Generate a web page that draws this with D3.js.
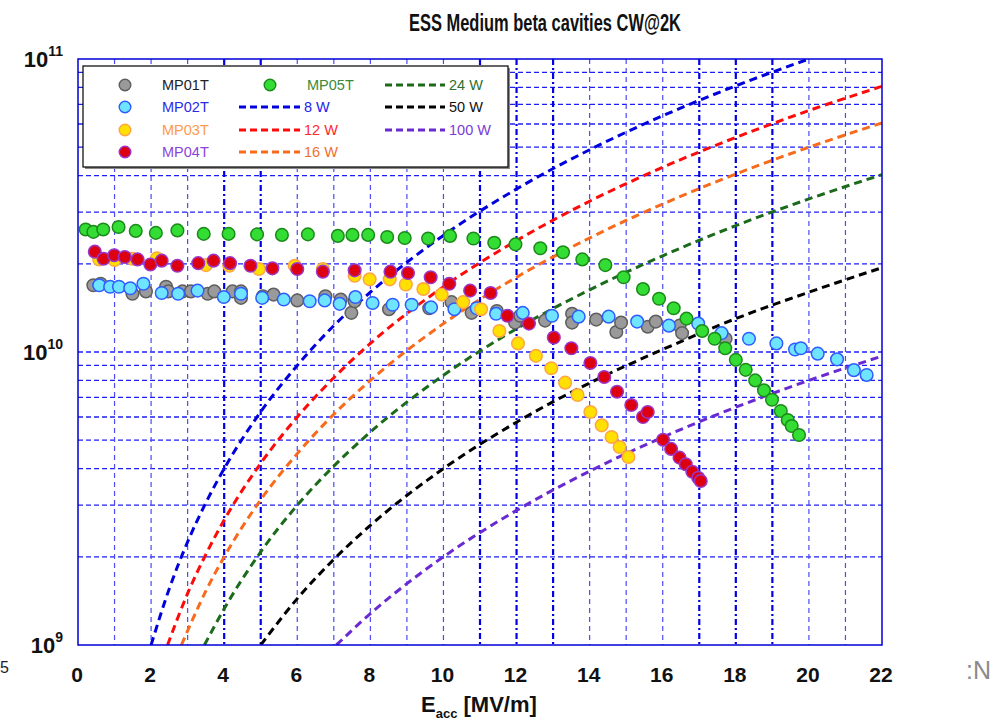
<!DOCTYPE html>
<html><head><meta charset="utf-8">
<script src="https://cdn.jsdelivr.net/npm/d3@7"></script>
<style>body{margin:0;background:#fff}svg{display:block}</style>
</head><body>
<svg id="c" width="995" height="722"></svg>
<script>
// ---------- data ----------
const mp01E = [0.42,0.62,1.49,1.86,2.41,2.47,2.86,3.09,3.55,3.73,4.23,4.46,4.46,5.06,5.35,6.0,6.77,7.19,7.48,7.57,8.51,9.61,10.22,10.77,11.46,11.96,12.10,12.78,13.52,13.52,14.18,14.73,14.86,15.59,15.81,16.46,16.53,17.72];
const mp01Q = [1.69,1.71,1.58,1.61,1.67,1.61,1.61,1.61,1.58,1.61,1.61,1.61,1.53,1.55,1.57,1.50,1.55,1.51,1.36,1.49,1.40,1.41,1.48,1.36,1.38,1.26,1.33,1.28,1.35,1.26,1.29,1.17,1.26,1.22,1.27,1.23,1.16,1.11];
const mp02E = [0.58,0.88,1.12,1.43,1.79,2.29,2.74,3.27,3.99,4.46,5.04,5.63,6.34,6.75,7.16,7.59,8.06,8.61,9.13,9.66,10.30,10.91,11.44,12.17,12.97,13.70,14.52,15.30,16.17,16.97,17.61,18.36,19.11,19.62,19.78,20.24,20.77,21.23,21.58];
const mp02Q = [1.69,1.67,1.67,1.65,1.71,1.59,1.58,1.62,1.54,1.58,1.53,1.51,1.49,1.50,1.46,1.54,1.47,1.45,1.45,1.42,1.40,1.41,1.35,1.36,1.33,1.32,1.32,1.27,1.23,1.25,1.16,1.11,1.07,1.02,1.03,0.987,0.944,0.867,0.835];
const mp03E = [0.58,1.0,1.49,2.16,3.50,4.14,4.95,5.93,6.70,7.57,7.98,8.53,8.97,9.45,9.95,10.54,11.03,11.53,12.04,12.53,12.95,13.33,13.67,14.02,14.33,14.60,14.82,15.06];
const mp03Q = [2.07,2.06,2.08,2.09,1.98,1.97,1.92,1.97,1.92,1.82,1.77,1.77,1.70,1.64,1.57,1.48,1.40,1.18,1.07,0.97,0.88,0.786,0.713,0.624,0.562,0.513,0.474,0.438];
const mp04E = [0.46,0.70,0.99,1.28,1.63,1.98,2.29,2.72,3.29,3.71,4.16,4.72,5.32,6.0,6.70,7.57,8.55,9.03,9.65,10.16,10.73,11.29,11.75,12.34,13.02,13.5,14.02,14.40,14.75,15.14,15.46,15.59,16.01,16.23,16.46,16.63,16.81,16.97,17.04];
const mp04Q = [2.20,2.08,2.14,2.11,2.07,1.99,2.05,1.97,2.01,2.05,2.01,1.97,1.93,1.92,1.88,1.90,1.88,1.86,1.80,1.71,1.62,1.59,1.33,1.25,1.12,1.03,0.917,0.822,0.732,0.659,0.60,0.624,0.502,0.467,0.436,0.414,0.390,0.372,0.363];
const mp05E = [0.21,0.42,0.69,1.11,1.58,2.13,2.72,3.44,4.12,4.90,5.58,6.29,7.11,7.51,7.94,8.46,8.94,9.58,10.18,10.82,11.39,11.97,12.65,13.27,13.80,14.43,14.93,15.46,15.90,16.3,16.65,17.08,17.42,17.71,18.0,18.27,18.53,18.77,18.99,19.23,19.42,19.53,19.73];
const mp05Q = [2.62,2.57,2.62,2.67,2.59,2.55,2.60,2.53,2.53,2.52,2.51,2.52,2.49,2.51,2.51,2.47,2.45,2.44,2.49,2.44,2.36,2.33,2.26,2.19,2.07,1.98,1.80,1.64,1.52,1.41,1.30,1.18,1.11,1.03,0.94,0.869,0.80,0.74,0.687,0.629,0.586,0.559,0.521];
const qUnit = 1e10;

// iso-power lines (E in MV/m, Q0)
const w8E  = [2,2.5,3,3.5,4,5,6,7,8,10,12,14,16,18,20];
const w8Q  = [1.0e9,1.56e9,2.25e9,3.06e9,4.0e9,6.25e9,9.0e9,1.23e10,1.6e10,2.5e10,3.6e10,4.9e10,6.4e10,8.1e10,1.0e11];
const w12E = [2.45,3,3.5,4,5,6,7,8,10,12,14,16,18,20,22];
const w12Q = [1.0e9,1.5e9,2.04e9,2.67e9,4.17e9,6.0e9,8.17e9,1.07e10,1.67e10,2.4e10,3.27e10,4.27e10,5.4e10,6.67e10,8.07e10];
const w16E = [2.83,3.5,4,5,6,7,8,10,12,14,16,18,20,22];
const w16Q = [1.0e9,1.53e9,2.0e9,3.13e9,4.5e9,6.13e9,8.0e9,1.25e10,1.8e10,2.45e10,3.2e10,4.05e10,5.0e10,6.05e10];
const w24E = [3.46,4,5,6,7,8,10,12,14,16,18,20,22];
const w24Q = [1.0e9,1.33e9,2.08e9,3.0e9,4.08e9,5.33e9,8.33e9,1.2e10,1.63e10,2.13e10,2.7e10,3.33e10,4.03e10];
const w50E = [5,6,7,8,10,12,14,16,18,20,22];
const w50Q = [1.0e9,1.44e9,1.96e9,2.56e9,4.0e9,5.76e9,7.84e9,1.02e10,1.3e10,1.6e10,1.94e10];
const w100E = [7.07,8,9,10,12,14,16,18,20,22];
const w100Q = [1.0e9,1.28e9,1.62e9,2.0e9,2.88e9,3.92e9,5.12e9,6.48e9,8.0e9,9.68e9];

const xTicks = [0,2,4,6,8,10,12,14,16,18,20,22];
const yTicks = [1e9,1e10,1e11];
const yTickExp = ["9","10","11"];
const title = "ESS Medium beta cavities CW@2K";

// ---------- styles ----------
const seriesStyle = [
  {name:"MP01T", E:mp01E, Q:mp01Q, fill:"#9a9a9a", stroke:"#5e5e5e", text:"#222222"},
  {name:"MP02T", E:mp02E, Q:mp02Q, fill:"#6fe4ff", stroke:"#2f5cff", text:"#2b2bea"},
  {name:"MP03T", E:mp03E, Q:mp03Q, fill:"#ffe000", stroke:"#ffa545", text:"#ff9a4a"},
  {name:"MP04T", E:mp04E, Q:mp04Q, fill:"#dd0010", stroke:"#9a36c8", text:"#8a44dd"},
  {name:"MP05T", E:mp05E, Q:mp05Q, fill:"#33dd33", stroke:"#1b8a1b", text:"#3a8a3a"}
];
const lineStyle = [
  {name:"8 W",   E:w8E,   Q:w8Q,   color:"#0000dd", text:"#2222ee"},
  {name:"12 W",  E:w12E,  Q:w12Q,  color:"#ff0a0a", text:"#ff2a2a"},
  {name:"16 W",  E:w16E,  Q:w16Q,  color:"#f86a1c", text:"#f07030"},
  {name:"24 W",  E:w24E,  Q:w24Q,  color:"#1c6a1c", text:"#2f702f"},
  {name:"50 W",  E:w50E,  Q:w50Q,  color:"#000000", text:"#111111"},
  {name:"100 W", E:w100E, Q:w100Q, color:"#6a2ad2", text:"#7a3ad8"}
];

const L = 78, R = 882, T = 59, B = 645;
const x = d3.scaleLinear().domain([0,22]).range([L,R]);
const y = d3.scaleLog().domain([1e9,1e11]).range([B,T]);
const svg = d3.select("#c");
const FONT = "'Liberation Sans', Arial, sans-serif";

svg.append("defs").append("clipPath").attr("id","clip")
  .append("rect").attr("x",L).attr("y",T).attr("width",R-L).attr("height",B-T);

// grid
const g = svg.append("g");
const minor = [];
[1e9,1e10].forEach(d => { for (let k=2;k<=9;k++) minor.push(d*k); });
minor.push(1e10);
g.selectAll("line.h").data(minor).join("line")
  .attr("x1",L).attr("x2",R).attr("y1",d=>y(d)).attr("y2",d=>y(d))
  .attr("stroke","#1f1fee").attr("stroke-width",1.3).attr("stroke-dasharray","5,3");
const boldX = [4,5,11,12,13,17,18,19];
g.selectAll("line.v").data(d3.range(1,22)).join("line")
  .attr("x1",d=>x(d)).attr("x2",d=>x(d)).attr("y1",T).attr("y2",B)
  .attr("stroke",d=>boldX.includes(d)?"#0000e6":"#4b4bf5")
  .attr("stroke-width",d=>boldX.includes(d)?2.2:1.2)
  .attr("stroke-dasharray",d=>boldX.includes(d)?"6,3,2,3":"5,4");

// iso-power lines
const lineGen = d3.line().x(d=>x(d[0])).y(d=>y(d[1])).curve(d3.curveMonotoneX);
const lg = svg.append("g").attr("clip-path","url(#clip)");
lineStyle.forEach(s => {
  lg.append("path").datum(s.E.map((e,i)=>[e,s.Q[i]]))
    .attr("d",lineGen).attr("fill","none").attr("stroke",s.color)
    .attr("stroke-width",3).attr("stroke-dasharray","8,5");
});

// points
const pg = svg.append("g").attr("clip-path","url(#clip)");
seriesStyle.forEach(s => {
  pg.append("g").selectAll("circle").data(s.E.map((e,i)=>[e,s.Q[i]*qUnit])).join("circle")
    .attr("cx",d=>x(d[0])).attr("cy",d=>y(d[1])).attr("r",6.3)
    .attr("fill",s.fill).attr("stroke",s.stroke).attr("stroke-width",1.5);
});

// frame
svg.append("rect").attr("x",L).attr("y",T).attr("width",R-L).attr("height",B-T)
  .attr("fill","none").attr("stroke","#0000d8").attr("stroke-width",1.5);

// legend
const lgX = 83, lgY = 66, lgW = 425, lgH = 101;
svg.append("rect").attr("x",lgX+2).attr("y",lgY+2).attr("width",lgW).attr("height",lgH).attr("fill","#8a8a8a");
svg.append("rect").attr("x",lgX).attr("y",lgY).attr("width",lgW).attr("height",lgH)
  .attr("fill","#fff").attr("stroke","#000").attr("stroke-width",1.2);
const rows = [85,107,130,152];
const legendItems = [
  {type:"m", s:seriesStyle[0], mx:125, tx:162, row:0},
  {type:"m", s:seriesStyle[1], mx:125, tx:162, row:1},
  {type:"m", s:seriesStyle[2], mx:125, tx:162, row:2},
  {type:"m", s:seriesStyle[3], mx:125, tx:162, row:3},
  {type:"m", s:seriesStyle[4], mx:270, tx:307, row:0},
  {type:"l", s:lineStyle[0], x1:239, x2:300, tx:304, row:1},
  {type:"l", s:lineStyle[1], x1:239, x2:300, tx:304, row:2},
  {type:"l", s:lineStyle[2], x1:239, x2:300, tx:304, row:3},
  {type:"l", s:lineStyle[3], x1:385, x2:445, tx:449, row:0},
  {type:"l", s:lineStyle[4], x1:385, x2:445, tx:449, row:1},
  {type:"l", s:lineStyle[5], x1:385, x2:445, tx:449, row:2}
];
legendItems.forEach(it => {
  const cy = rows[it.row];
  if (it.type === "m") {
    svg.append("circle").attr("cx",it.mx).attr("cy",cy).attr("r",5.8)
      .attr("fill",it.s.fill).attr("stroke",it.s.stroke).attr("stroke-width",1.4);
  } else {
    svg.append("line").attr("x1",it.x1).attr("x2",it.x2).attr("y1",cy).attr("y2",cy)
      .attr("stroke",it.s.color).attr("stroke-width",3).attr("stroke-dasharray","7,4");
  }
  svg.append("text").attr("x",it.tx).attr("y",cy+5).text(it.s.name)
    .attr("font-family",FONT).attr("font-size",14.5).attr("fill",it.s.text);
});

// axis labels
svg.append("g").selectAll("text").data(xTicks).join("text")
  .attr("x",d=>x(d)-1).attr("y",682).attr("text-anchor","middle")
  .attr("font-family",FONT).attr("font-weight","bold").attr("font-size",21)
  .attr("fill","#111").text(d=>d);
yTicks.forEach((v,i) => {
  const t = svg.append("text").attr("x",63).attr("y",y(v)+8).attr("text-anchor","end")
    .attr("font-family",FONT).attr("font-weight","bold").attr("fill","#111");
  t.append("tspan").attr("font-size",22).text("10");
  t.append("tspan").attr("font-size",14).attr("dy",-11).text(yTickExp[i]);
});

// title
svg.append("text").attr("x",545).attr("y",31).attr("text-anchor","middle")
  .attr("font-family",FONT).attr("font-weight","bold").attr("font-size",23)
  .attr("textLength",272).attr("lengthAdjust","spacingAndGlyphs")
  .attr("fill","#111").text(title);

// x axis title
const xt = svg.append("text").attr("x",421).attr("y",712)
  .attr("font-family",FONT).attr("font-weight","bold").attr("fill","#111");
xt.append("tspan").attr("font-size",22).text("E");
xt.append("tspan").attr("font-size",13).attr("dy",6).text("acc");
xt.append("tspan").attr("font-size",22).attr("dy",-6).text(" [MV/m]");

// slide remnants at the edges
svg.append("text").attr("x",0).attr("y",673).attr("font-family",FONT)
  .attr("font-size",16).attr("fill","#222").text("5");
svg.append("text").attr("x",966).attr("y",679).attr("font-family",FONT)
  .attr("font-size",25).attr("fill","#8a8a8a").text(":N");
</script>
</body></html>
